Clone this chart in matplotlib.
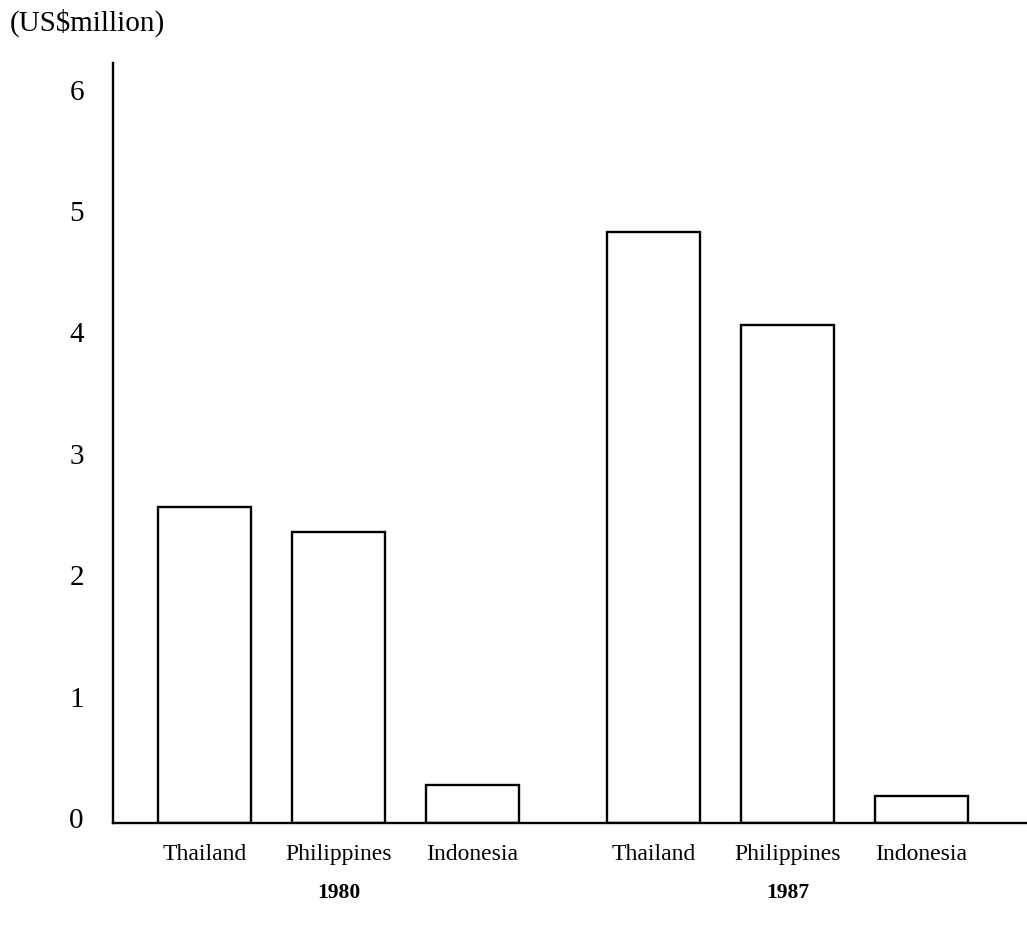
import numpy as np
import matplotlib
matplotlib.use("Agg")
import matplotlib.pyplot as plt
import matplotlib.transforms as mtransforms

# values (US$ million)
years = ["1980", "1987"]
countries = ["Thailand", "Philippines", "Indonesia"]
values_1980 = [2.6, 2.4, 0.31]
values_1987 = [4.87, 4.1, 0.22]
yticks = [0, 1, 2, 3, 4, 5, 6]

plt.rcParams['font.family'] = ['Liberation Serif', 'DejaVu Serif']

fig = plt.figure(figsize=(10.27, 9.30), dpi=100)
ax = fig.add_axes([113 / 1027, 1 - 823 / 930, 1 - 113 / 1027, (823 - 63) / 930])

group_gap = 1.35
pos = []
vals = []
labels = []
for g, v in enumerate([values_1980, values_1987]):
    for i, val in enumerate(v):
        pos.append(g * (2 + group_gap) + i)
        vals.append(val)
        labels.append(countries[i])
pos = np.array(pos)

ax.bar(pos, vals, width=0.70, facecolor="white", edgecolor="black", linewidth=1.7)

ax.set_xlim(-0.683, 6.138)
ax.set_ylim(0, 6.26)
ax.set_yticks(yticks)
ax.set_yticklabels([str(t) for t in yticks], fontsize=21)
ax.set_xticks(pos)
ax.set_xticklabels(labels, fontsize=17)
ax.tick_params(axis="y", length=0, pad=21)
ax.tick_params(axis="x", length=0, pad=15)

# tick numbers sit a little above their gridline in the original
shift = mtransforms.ScaledTranslation(0, 5 / 100, fig.dpi_scale_trans)
for lab in ax.get_yticklabels():
    lab.set_transform(lab.get_transform() + shift)

for s in ["top", "right"]:
    ax.spines[s].set_visible(False)
for s in ["left", "bottom"]:
    ax.spines[s].set_linewidth(1.7)

# year labels under each group
trans = mtransforms.blended_transform_factory(ax.transData, ax.transAxes)
for g, yr in enumerate(years):
    ax.text(g * (2 + group_gap) + 1, -70 / 760, yr, transform=trans,
            ha="center", va="center", fontsize=15.5, fontweight="bold")

fig.text(10 / 1027, 1 - 23 / 930, r"(US\$million)", ha="left", va="center", fontsize=21)

fig.savefig("out.png", dpi=100, facecolor="white")
